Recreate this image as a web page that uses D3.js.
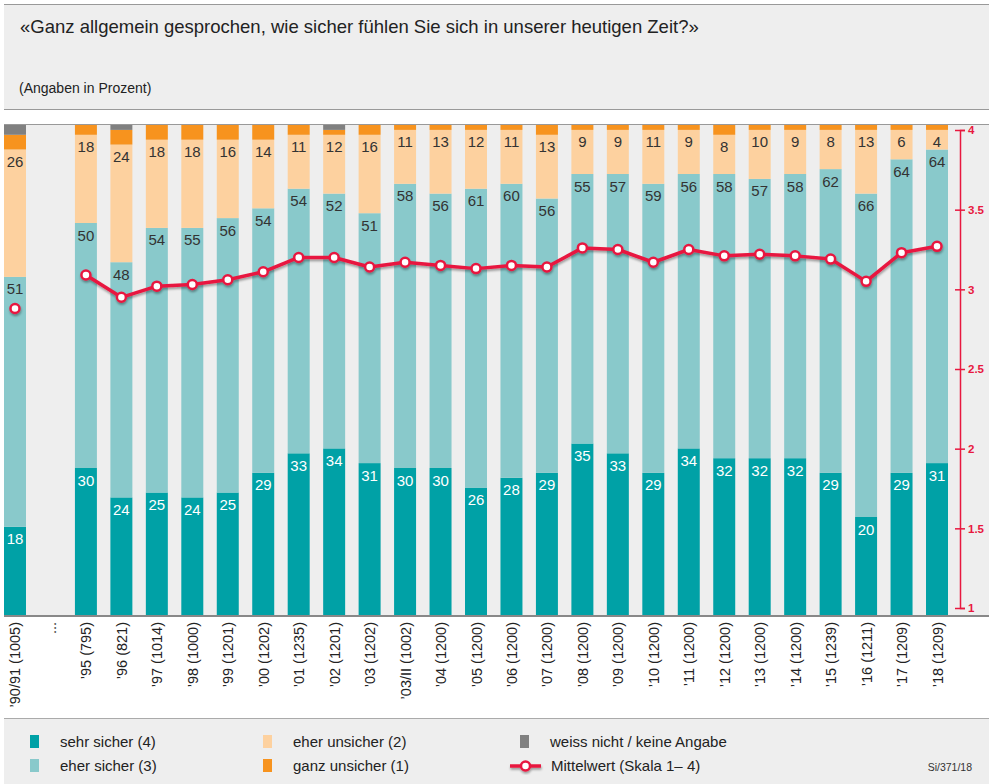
<!DOCTYPE html>
<html>
<head>
<meta charset="utf-8">
<script src="https://cdn.jsdelivr.net/npm/d3@7"></script>
<style>
  body { margin: 0; background: #fff; }
  svg { display: block; font-family: "Liberation Sans", Arial, Helvetica, sans-serif; }
</style>
</head>
<body>
<div id="chart"></div>
<script>
// categories (the "..." slot is the gap between 90/91 and 95)
var cats = ["\u201990/91 (1005)", "...", "\u201995 (795)", "\u201996 (821)", "\u201997 (1014)", "\u201998 (1000)",
  "\u201999 (1201)", "\u201900 (1202)", "\u201901 (1235)", "\u201902 (1201)", "\u201903 (1202)", "\u201903/II (1002)",
  "\u201904 (1200)", "\u201905 (1200)", "\u201906 (1200)", "\u201907 (1200)", "\u201908 (1200)", "\u201909 (1200)",
  "\u201910 (1200)", "\u201911 (1200)", "\u201912 (1200)", "\u201913 (1200)", "\u201914 (1200)", "\u201915 (1239)",
  "\u201916 (1211)", "\u201917 (1209)", "\u201918 (1209)"];

var sehrSicher   = [18, null, 30, 24, 25, 24, 25, 29, 33, 34, 31, 30, 30, 26, 28, 29, 35, 33, 29, 34, 32, 32, 32, 29, 20, 29, 31];
var eherSicher   = [51, null, 50, 48, 54, 55, 56, 54, 54, 52, 51, 58, 56, 61, 60, 56, 55, 57, 59, 56, 58, 57, 58, 62, 66, 64, 64];
var eherUnsicher = [26, null, 18, 24, 18, 18, 16, 14, 11, 12, 16, 11, 13, 12, 11, 13, 9, 9, 11, 9, 8, 10, 9, 8, 13, 6, 4];
var ganzUnsicher = [3, null, 2, 3, 3, 3, 3, 3, 2, 1, 2, 1, 1, 1, 1, 2, 1, 1, 1, 1, 2, 1, 1, 1, 1, 1, 1];
var weissNicht   = [2, null, 0, 1, 0, 0, 0, 0, 0, 1, 0, 0, 0, 0, 0, 0, 0, 0, 0, 0, 0, 0, 0, 0, 0, 0, 0];
var mittelwert   = [2.88, null, 3.09, 2.95, 3.02, 3.03, 3.06, 3.11, 3.20, 3.20, 3.14, 3.17, 3.15, 3.13, 3.15, 3.14,
  3.26, 3.25, 3.17, 3.25, 3.21, 3.22, 3.21, 3.19, 3.05, 3.23, 3.27];

var rightTicks = [1, 1.5, 2, 2.5, 3, 3.5, 4];

var keys = ["sehr", "eherS", "eherU", "ganz", "weiss"];
var names = {sehr: "sehr sicher (4)", eherS: "eher sicher (3)", eherU: "eher unsicher (2)",
  ganz: "ganz unsicher (1)", weiss: "weiss nicht / keine Angabe"};
var colors = {sehr: "#00a1a6", eherS: "#89c9cb", eherU: "#fdd19f", ganz: "#f7931e", weiss: "#808080"};
var red = "#e8183f";

var rows = cats.map(function(c, i) {
  return {cat: c, sehr: sehrSicher[i], eherS: eherSicher[i], eherU: eherUnsicher[i],
    ganz: ganzUnsicher[i], weiss: weissNicht[i], mean: mittelwert[i]};
});

var W = 989, H = 784;
var svg = d3.select("#chart").append("svg").attr("width", W).attr("height", H);

// header box
svg.append("rect").attr("x", 4).attr("y", 4).attr("width", W - 4).attr("height", 105).attr("fill", "#eeeeee");
svg.append("line").attr("x1", 4).attr("x2", W).attr("y1", 4.5).attr("y2", 4.5).attr("stroke", "#999");
svg.append("line").attr("x1", 4).attr("x2", W).attr("y1", 109.5).attr("y2", 109.5).attr("stroke", "#999");
svg.append("text").attr("x", 20).attr("y", 33).attr("font-size", 18.5).attr("fill", "#222")
  .text("\u00abGanz allgemein gesprochen, wie sicher f\u00fchlen Sie sich in unserer heutigen Zeit?\u00bb");
svg.append("text").attr("x", 19).attr("y", 93).attr("font-size", 14).attr("fill", "#222")
  .text("(Angaben in Prozent)");

// plot area
var plotTop = 125, plotBottom = 615;
svg.append("rect").attr("x", 4).attr("y", plotTop).attr("width", W - 4).attr("height", plotBottom - plotTop).attr("fill", "#eeeeee");
svg.append("line").attr("x1", 4).attr("x2", W).attr("y1", plotTop - 0.5).attr("y2", plotTop - 0.5).attr("stroke", "#999");

var x = d3.scaleBand().domain(cats).range([4, 948]).paddingInner(0.38).paddingOuter(0);
var y = d3.scaleLinear().domain([0, 100]).range([plotBottom, plotTop]);
var yR = d3.scaleLinear().domain([1, 4]).range([608, 130]);

var stacked = d3.stack().keys(keys).value(function(d, k) { return d[k] || 0; })(rows);

var layer = svg.append("g").selectAll("g").data(stacked).join("g")
  .attr("fill", function(s) { return colors[s.key]; });

layer.selectAll("rect").data(function(s) { return s.filter(function(d) { return d.data.sehr != null; }); })
  .join("rect")
  .attr("x", function(d) { return x(d.data.cat); })
  .attr("width", x.bandwidth())
  .attr("y", function(d) { return y(d[1]); })
  .attr("height", function(d) { return y(d[0]) - y(d[1]); });

// value labels for first three series
stacked.slice(0, 3).forEach(function(s) {
  svg.append("g").selectAll("text")
    .data(s.filter(function(d) { return d.data.sehr != null; }))
    .join("text")
    .attr("x", function(d) { return x(d.data.cat) + x.bandwidth() / 2; })
    .attr("y", function(d) { return y(d[1]) + 17.5; })
    .attr("text-anchor", "middle")
    .attr("font-size", 15)
    .attr("fill", s.key == "sehr" ? "#fff" : "#333")
    .text(function(d) { return d.data[s.key]; });
});

svg.append("line").attr("x1", 4).attr("x2", W).attr("y1", plotBottom + 1).attr("y2", plotBottom + 1)
  .attr("stroke", "#888").attr("stroke-width", 2);

// right axis for the mean
var axis = svg.append("g").attr("transform", "translate(960,0)")
  .call(d3.axisRight(yR).tickValues(rightTicks).tickFormat(d3.format("~g"))
    .tickSizeOuter(0).tickSize(5).tickPadding(3));
axis.select(".domain").attr("stroke", red).attr("stroke-width", 1.5);
axis.selectAll(".tick line").attr("x1", -5).attr("x2", 5).attr("stroke", red).attr("stroke-width", 1.5);
axis.selectAll(".tick text").attr("fill", red).attr("font-size", 11.5).attr("font-weight", "bold")
  .attr("font-family", "Liberation Sans, Arial, sans-serif");

// shadow filter
var defs = svg.append("defs");
var f = defs.append("filter").attr("id", "shadow").attr("x", "-10%").attr("y", "-50%").attr("width", "120%").attr("height", "200%");
f.append("feDropShadow").attr("dx", 0.5).attr("dy", 2).attr("stdDeviation", 1)
  .attr("flood-color", "#000").attr("flood-opacity", 0.35);

var cx = function(d) { return x(d.cat) + x.bandwidth() / 2; };
var line = d3.line().defined(function(d) { return d.mean != null; })
  .x(cx).y(function(d) { return yR(d.mean); });

var meanG = svg.append("g").attr("filter", "url(#shadow)");
meanG.append("path").datum(rows).attr("d", line)
  .attr("fill", "none").attr("stroke", red).attr("stroke-width", 3.5).attr("stroke-linejoin", "round");
meanG.selectAll("circle").data(rows.filter(function(d) { return d.mean != null; })).join("circle")
  .attr("cx", cx).attr("cy", function(d) { return yR(d.mean); })
  .attr("r", 4.5).attr("fill", "#fff").attr("stroke", red).attr("stroke-width", 2.5);

// x labels
svg.append("g").selectAll("text").data(cats).join("text")
  .attr("transform", function(c) { return "translate(" + (x(c) + x.bandwidth() / 2 + 5.5) + "," + (plotBottom + 7) + ") rotate(-90)"; })
  .attr("text-anchor", "end")
  .attr("font-size", 14.5)
  .attr("fill", "#222")
  .text(function(c) { return c; });

// legend
svg.append("line").attr("x1", 4).attr("x2", W).attr("y1", 718.5).attr("y2", 718.5).attr("stroke", "#aaa");
svg.append("rect").attr("x", 4).attr("y", 719).attr("width", W - 4).attr("height", H - 719).attr("fill", "#eeeeee");

var legendItems = [
  {key: "sehr", x: 30, y: 742}, {key: "eherS", x: 30, y: 766},
  {key: "eherU", x: 263, y: 742}, {key: "ganz", x: 263, y: 766},
  {key: "weiss", x: 520, y: 742}
];
var lg = svg.append("g").selectAll("g").data(legendItems).join("g");
lg.append("rect").attr("x", function(d) { return d.x; }).attr("y", function(d) { return d.y - 7; })
  .attr("width", 9).attr("height", 13).attr("fill", function(d) { return colors[d.key]; });
lg.append("text").attr("x", function(d) { return d.x + 30; }).attr("y", function(d) { return d.y + 5; })
  .attr("font-size", 15).attr("fill", "#222").text(function(d) { return names[d.key]; });

var ml = svg.append("g").attr("filter", "url(#shadow)");
ml.append("line").attr("x1", 510).attr("x2", 541).attr("y1", 766).attr("y2", 766)
  .attr("stroke", red).attr("stroke-width", 3.5);
ml.append("circle").attr("cx", 525.5).attr("cy", 766).attr("r", 4.5)
  .attr("fill", "#fff").attr("stroke", red).attr("stroke-width", 2.5);
svg.append("text").attr("x", 551).attr("y", 771).attr("font-size", 15).attr("fill", "#222")
  .text("Mittelwert (Skala 1\u2013 4)");

svg.append("text").attr("x", 972).attr("y", 771).attr("text-anchor", "end").attr("font-size", 10.5).attr("fill", "#333")
  .text("Si/371/18");
</script>
</body>
</html>
